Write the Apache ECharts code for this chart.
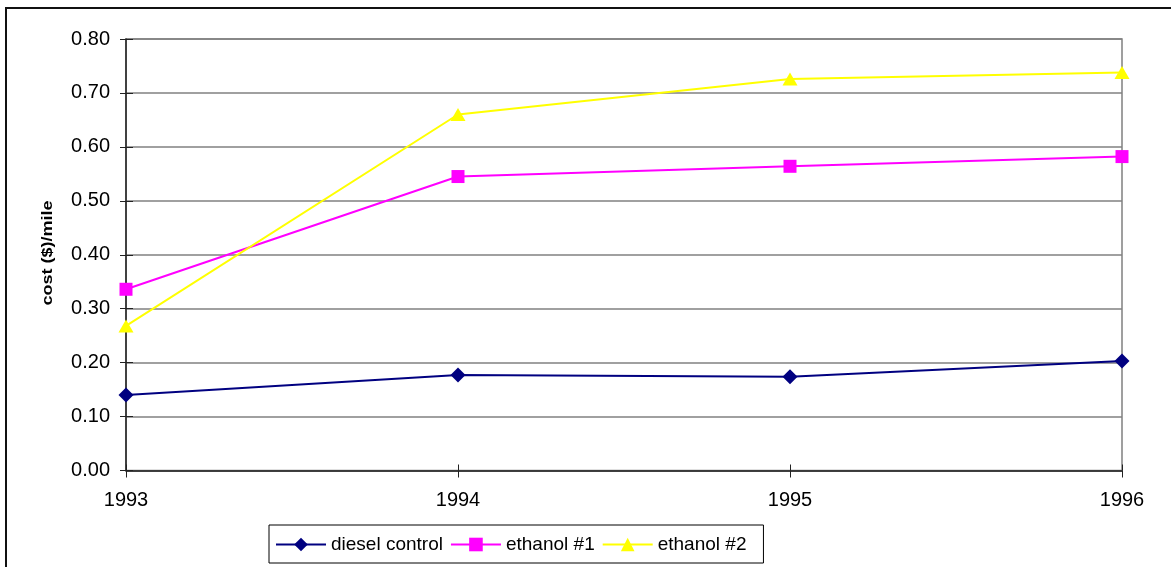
<!DOCTYPE html>
<html>
<head>
<meta charset="utf-8">
<title>cost ($)/mile</title>
<script src="https://cdn.jsdelivr.net/npm/echarts@6/dist/echarts.min.js"></script>
<style>
  html, body { margin: 0; padding: 0; background: #fff; }
  #chart { width: 1171px; height: 567px; }
</style>
</head>
<body>
<div id="chart"></div>
<script>
// Fleet operating cost per mile, by year
const years = ['1993', '1994', '1995', '1996'];
const dieselControl = [0.140, 0.177, 0.174, 0.203];
const ethanol1 = [0.336, 0.545, 0.564, 0.582];
const ethanol2 = [0.268, 0.660, 0.726, 0.738];
const yTicks = { min: 0, max: 0.8, step: 0.1 };

const FONT = 'Liberation Sans, Arial, sans-serif';
const chart = echarts.init(document.getElementById('chart'), null, { renderer: 'canvas' });

const gridBox = { left: 126, right: 49, top: 39, bottom: 96.5 };

function lineSeries(name, data, color, symbol, size) {
  return {
    name, type: 'line', data,
    xAxisIndex: 0, yAxisIndex: 0,
    symbol, symbolSize: size, showSymbol: true,
    lineStyle: { color, width: 2 },
    itemStyle: { color, borderWidth: 0 },
    emphasis: { disabled: true },
    animation: false,
    z: 3
  };
}

const option = {
  backgroundColor: '#ffffff',
  animation: false,
  grid: Object.assign({ show: true, borderColor: '#808080', borderWidth: 1.5, backgroundColor: 'transparent' }, gridBox),
  xAxis: [
    {
      type: 'category', data: years, boundaryGap: false,
      axisLine: { lineStyle: { color: '#222', width: 1.5 } },
      axisTick: { show: true, alignWithLabel: true, length: 7, lineStyle: { color: '#222', width: 1 } },
      axisLabel: { color: '#000', fontFamily: FONT, fontSize: 20, margin: 20 },
      splitLine: { show: false }
    },
    {
      // inner half of the crossing tick marks
      type: 'category', data: years, boundaryGap: false, position: 'bottom',
      axisLine: { show: false },
      axisTick: { show: true, inside: true, length: 6, lineStyle: { color: '#222', width: 1 } },
      axisLabel: { show: false }, splitLine: { show: false }
    }
  ],
  yAxis: [
    {
      type: 'value', min: yTicks.min, max: yTicks.max, interval: yTicks.step,
      axisLine: { show: true, lineStyle: { color: '#222', width: 1.5 } },
      axisTick: { show: true, length: 6, lineStyle: { color: '#222', width: 1 } },
      axisLabel: { color: '#000', fontFamily: FONT, fontSize: 20, margin: 16,
                   formatter: v => v.toFixed(2) },
      splitLine: { show: true, lineStyle: { color: '#808080', width: 1.5 } }
    },
    {
      type: 'value', min: yTicks.min, max: yTicks.max, interval: yTicks.step, position: 'left',
      axisLine: { show: false },
      axisTick: { show: true, inside: true, length: 7, lineStyle: { color: '#222', width: 1 } },
      axisLabel: { show: false }, splitLine: { show: false }
    }
  ],
  legend: {
    left: 269, top: 525,
    padding: [10, 17, 9, 6],
    itemGap: 7,
    itemWidth: 50, itemHeight: 17,
    borderColor: '#000', borderWidth: 1,
    textStyle: { color: '#000', fontFamily: FONT, fontSize: 19 },
    selectedMode: false,
    data: ['diesel control', 'ethanol #1', 'ethanol #2']
  },
  graphic: [
    {
      // outer chart frame
      type: 'rect', silent: true, z: 0,
      shape: { x: 6, y: 8, width: 1200, height: 600 },
      style: { fill: 'none', stroke: '#111', lineWidth: 2 }
    },
    {
      type: 'text', silent: true,
      x: 48, y: 253, rotation: Math.PI / 2, scaleX: 1.2,
      style: { text: 'cost ($)/mile', fill: '#000', font: 'bold 15px ' + FONT,
               align: 'center', verticalAlign: 'middle' }
    }
  ],
  series: [
    lineSeries('diesel control', dieselControl, '#000080', 'diamond', 15),
    lineSeries('ethanol #1', ethanol1, '#ff00ff', 'rect', 13),
    lineSeries('ethanol #2', ethanol2, '#ffff00', 'triangle', [15, 13])
  ]
};

chart.setOption(option);
</script>
</body>
</html>
